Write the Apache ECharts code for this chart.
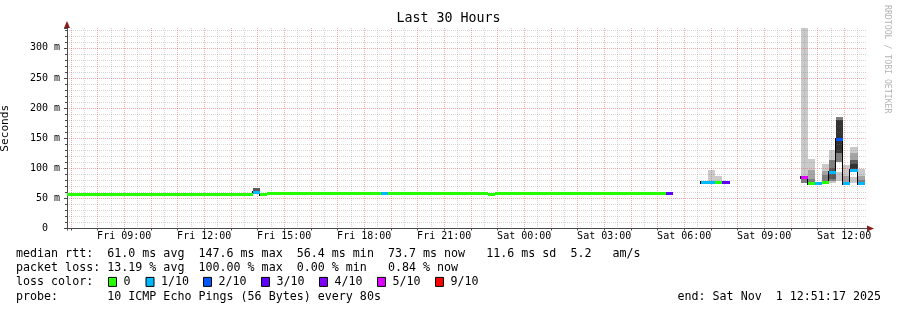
<!DOCTYPE html>
<html><head><meta charset="utf-8">
<script src="https://cdn.jsdelivr.net/npm/echarts@6/dist/echarts.min.js"></script>
<style>html,body{margin:0;padding:0;background:#fff}#c{width:897px;height:310px}</style>
</head><body><div id="c"></div>
<script>
// ---------- DATA (time in hours since Fri 00:00) ----------
const startHour = 6.8547;   // Fri 06:51:17
const endHour = 36.8547;    // Sat 12:51:17
const stepHours = 16 / 60;  // RRD consolidation step (16 min)
const yMax = 333;

// x tick labels (every 3 hours)
const xTickHours = [9, 12, 15, 18, 21, 24, 27, 30, 33, 36];
const xTickLabels = ['Fri 09:00', 'Fri 12:00', 'Fri 15:00', 'Fri 18:00', 'Fri 21:00',
                     'Sat 00:00', 'Sat 03:00', 'Sat 06:00', 'Sat 09:00', 'Sat 12:00'];

// median rtt segments (ms) and their packet loss (pings lost out of 10)
const segStart = [6.8547, 13.835, 14.101, 14.368, 18.635, 18.901, 22.635, 22.901, 29.301,
                  30.635, 30.901, 31.168, 31.435,
                  34.368, 34.635, 34.901, 35.168, 35.435, 35.701, 35.968, 36.235, 36.501];
const segEnd   = [13.835, 14.101, 14.368, 18.635, 18.901, 22.635, 22.901, 29.301, 29.568,
                  30.901, 31.168, 31.435, 31.701,
                  34.635, 34.901, 35.168, 35.435, 35.701, 35.968, 36.235, 36.501, 36.768];
const segMedian = [56.4, 59.0, 56.4, 58.0, 58.0, 58.0, 56.4, 58.0, 58.0,
                   76.5, 76.5, 76.5, 76.5,
                   84.0, 75.0, 75.0, 77.0, 93.0, 148.0, 75.5, 97.0, 74.5];
const segLoss = [0, 1, 0, 0, 1, 0, 0, 0, 3,
                 1, 1, 0, 3,
                 5, 0, 1, 0, 1, 2, 1, 1, 1];

// smoke bands: bucket start, low (ms), high (ms), shade level (1 = outer/light .. 5 = inner/dark)
const bandStart = [13.835, 30.901, 31.168,
                   34.368, 34.368,
                   34.635, 34.635, 34.635,
                   34.901,
                   35.168, 35.168, 35.168,
                   35.435, 35.435, 35.435,
                   35.701, 35.701, 35.701,
                   35.968, 35.968,
                   36.235, 36.235, 36.235, 36.235, 36.235,
                   36.501, 36.501, 36.501];
const bandLo = [57, 76.5, 76.5,
                76, 76,
                74, 74, 74,
                74,
                75, 75, 75,
                76, 79, 82,
                79, 110, 126,
                74, 74,
                75, 97, 97, 97, 97,
                74, 74, 74];
const bandHi = [67, 97, 87,
                333, 82,
                115, 97, 82,
                77,
                107, 96, 89,
                130, 114, 100,
                94, 185, 180,
                105, 87,
                85, 136, 126, 114, 107,
                99, 88, 80];
const bandShade = [4, 1, 1,
                   1, 3,
                   1, 2, 3,
                   1,
                   1, 2, 3,
                   1, 3, 4,
                   1, 3, 5,
                   1, 2,
                   1, 1, 2, 4, 5,
                   1, 2, 3];

// loss colour legend
const lossThresholds = [0, 1, 2, 3, 4, 5, 9];
const lossLabels = ['0', '1/10', '2/10', '3/10', '4/10', '5/10', '9/10'];
const lossColors = ['#26ff00', '#00b8ff', '#0059ff', '#5e00ff', '#7e00ff', '#dd00ff', '#ff0000'];

// legend texts
const medianLine = 'median rtt:  61.0 ms avg  147.6 ms max  56.4 ms min  73.7 ms now   11.6 ms sd  5.2   am/s';
const lossLine = 'packet loss: 13.19 % avg  100.00 % max  0.00 % min   0.84 % now';
const lossColorTitle = 'loss color:';
const probeLine = 'probe:       10 ICMP Echo Pings (56 Bytes) every 80s';
const endLine = 'end: Sat Nov  1 12:51:17 2025';
const titleText = 'Last 30 Hours';
const yName = 'Seconds';
const sideText = 'RRDTOOL / TOBI OETIKER';

// ---------- STYLE ----------
const MONO = '"DejaVu Sans Mono", "Liberation Mono", monospace';
const shadeColors = ['', '#cacaca', '#a4a4a4', '#7e7e7e', '#585858', '#323232'];
const axisColor = '#4a4a4a';
const arrowColor = '#8b1a1a';
const majorGrid = 'rgba(230,70,70,0.45)';
const minorGrid = 'rgba(128,128,128,0.32)';
const legendFont = 11.66;
const legendX = 16;
const legendRowY = [254, 268.2, 282.4, 296.6];
const lossBoxX = [108.5, 146, 203.5, 261.5, 319.5, 377.5, 435.5];

function lossColorFor(l) {
  let c = lossColors[0];
  for (let i = 0; i < lossThresholds.length; i++) if (l >= lossThresholds[i]) c = lossColors[i];
  return c;
}
function fmtX(v) {
  for (let i = 0; i < xTickHours.length; i++) if (Math.abs(v - xTickHours[i]) < 1e-6) return xTickLabels[i];
  return '';
}
function fmtY(v) {
  if (v === 0) return '0  ';
  return v + ' m';
}

// build series data
const bandData = bandStart.map((s, i) => [s, s + stepHours, bandLo[i], bandHi[i], bandShade[i]])
  .sort((a, b) => a[4] - b[4]);
const medData = segStart.map((s, i) => [s, segEnd[i], segMedian[i], segLoss[i]]);
const connData = [];
segStart.forEach((s, i) => {
  const adjacent = i > 0 && Math.abs(segEnd[i - 1] - s) < 1e-6;
  if (!adjacent) connData.push([s, segMedian[i], segMedian[i]]);
  else if (Math.abs(segMedian[i - 1] - segMedian[i]) > 2) connData.push([s, segMedian[i - 1], segMedian[i]]);
});

const graphics = [
  { type: 'text', x: 448.5, y: 19, style: { text: titleText, fill: '#000', font: '13.3px ' + MONO, align: 'center', verticalAlign: 'middle', textAlign: 'center', textVerticalAlign: 'middle' } },
  { type: 'text', x: 887.5, y: 5, rotation: -Math.PI / 2, style: { text: sideText, fill: '#b4b4b4', font: '8.2px ' + MONO, align: 'left', verticalAlign: 'middle', textAlign: 'left', textVerticalAlign: 'middle' } },
  { type: 'text', x: legendX, y: legendRowY[0], style: { text: medianLine, fill: '#000', font: legendFont + 'px ' + MONO, verticalAlign: 'middle', textVerticalAlign: 'middle' } },
  { type: 'text', x: legendX, y: legendRowY[1], style: { text: lossLine, fill: '#000', font: legendFont + 'px ' + MONO, verticalAlign: 'middle', textVerticalAlign: 'middle' } },
  { type: 'text', x: legendX, y: legendRowY[2], style: { text: lossColorTitle, fill: '#000', font: legendFont + 'px ' + MONO, verticalAlign: 'middle', textVerticalAlign: 'middle' } },
  { type: 'text', x: legendX, y: legendRowY[3], style: { text: probeLine, fill: '#000', font: legendFont + 'px ' + MONO, verticalAlign: 'middle', textVerticalAlign: 'middle' } },
  { type: 'text', x: 881, y: legendRowY[3], style: { text: endLine, fill: '#000', font: legendFont + 'px ' + MONO, align: 'right', textAlign: 'right', verticalAlign: 'middle', textVerticalAlign: 'middle' } }
];
lossLabels.forEach((lab, i) => {
  graphics.push({ type: 'rect', shape: { x: lossBoxX[i], y: legendRowY[2] - 5, width: 8, height: 9 }, style: { fill: lossColors[i], stroke: '#000', lineWidth: 1 } });
  graphics.push({ type: 'text', x: lossBoxX[i] + 15, y: legendRowY[2], style: { text: lab, fill: '#000', font: legendFont + 'px ' + MONO, verticalAlign: 'middle', textVerticalAlign: 'middle' } });
});

const chart = echarts.init(document.getElementById('c'), null, { renderer: 'canvas', width: 897, height: 310 });
chart.setOption({
  animation: false,
  backgroundColor: '#ffffff',
  textStyle: { fontFamily: MONO },
  grid: { left: 67, top: 28, width: 800, height: 200.5, containLabel: false, outerBoundsMode: 'none' },
  xAxis: [
    {
      type: 'value', min: startHour, max: endHour, minInterval: 1, maxInterval: 1, position: 'bottom', z: 3,
      axisLine: { show: true, onZero: false, lineStyle: { color: axisColor, width: 1 } },
      axisTick: { show: true, length: 2, lineStyle: { color: axisColor } },
      minorTick: { show: false, splitNumber: 2 },
      axisLabel: { show: true, margin: 3, formatter: fmtX, color: '#000', fontFamily: MONO, fontSize: 10, hideOverlap: false },
      splitLine: { show: true, showMinLine: false, showMaxLine: false, lineStyle: { color: majorGrid, width: 1, type: [1, 1] } },
      minorSplitLine: { show: true, lineStyle: { color: minorGrid, width: 1, type: [1, 1] } }
    },
    {
      type: 'value', min: startHour, max: endHour, position: 'bottom', z: 2,
      axisLine: { show: true, onZero: false, symbol: ['none', 'triangle'], symbolSize: [6, 7], symbolOffset: [0, 3.5], lineStyle: { color: arrowColor, width: 1 } },
      axisTick: { show: false }, axisLabel: { show: false }, splitLine: { show: false }
    }
  ],
  yAxis: [
    {
      type: 'value', min: 0, max: yMax, interval: 50, position: 'left', z: 3,
      name: yName, nameLocation: 'middle', nameGap: 56, nameRotate: 90,
      nameTextStyle: { color: '#000', fontFamily: MONO, fontSize: 11.2 },
      axisLine: { show: true, onZero: false, lineStyle: { color: axisColor, width: 1 } },
      axisTick: { show: true, length: 3, lineStyle: { color: axisColor } },
      minorTick: { show: true, splitNumber: 5, length: 2, lineStyle: { color: axisColor } },
      axisLabel: { show: true, margin: 7, formatter: fmtY, color: '#000', fontFamily: MONO, fontSize: 10, showMaxLabel: false },
      splitLine: { show: true, showMinLine: false, showMaxLine: false, lineStyle: { color: majorGrid, width: 1, type: [1, 1] } },
      minorSplitLine: { show: true, lineStyle: { color: minorGrid, width: 1, type: [1, 1] } }
    },
    {
      type: 'value', min: 0, max: yMax, position: 'left', z: 2,
      axisLine: { show: true, onZero: false, symbol: ['none', 'triangle'], symbolSize: [6, 7], symbolOffset: [0, 3.5], lineStyle: { color: arrowColor, width: 1 } },
      axisTick: { show: false }, axisLabel: { show: false }, splitLine: { show: false }
    }
  ],
  series: [
    {
      type: 'custom', name: 'smoke', xAxisIndex: 0, yAxisIndex: 0, z: 1, clip: true,
      data: bandData, encode: { x: [0, 1], y: [2, 3] },
      renderItem: function (params, api) {
        const a = api.coord([api.value(0), api.value(3)]);
        const b = api.coord([api.value(1), api.value(2)]);
        const x0 = Math.round(a[0]), x1 = Math.round(b[0]);
        const y0 = Math.round(a[1]), y1 = Math.round(b[1]);
        return { type: 'rect', shape: { x: x0, y: y0, width: x1 - x0, height: y1 - y0 }, style: { fill: shadeColors[api.value(4)] } };
      }
    },
    {
      type: 'custom', name: 'connect', xAxisIndex: 0, yAxisIndex: 0, z: 4, clip: true,
      data: connData, encode: { x: 0, y: [1, 2] },
      renderItem: function (params, api) {
        const a = api.coord([api.value(0), api.value(1)]);
        const b = api.coord([api.value(0), api.value(2)]);
        const x = Math.round(a[0]) - 1;
        const yt = Math.round(Math.min(a[1], b[1]) - 1.5);
        const yb = Math.round(Math.max(a[1], b[1]) + 1.5);
        return { type: 'rect', shape: { x: x, y: yt, width: 1, height: yb - yt }, style: { fill: '#000' } };
      }
    },
    {
      type: 'custom', name: 'median', xAxisIndex: 0, yAxisIndex: 0, z: 5, clip: true,
      data: medData, encode: { x: [0, 1], y: 2 },
      renderItem: function (params, api) {
        const a = api.coord([api.value(0), api.value(2)]);
        const b = api.coord([api.value(1), api.value(2)]);
        const x0 = Math.round(a[0]), x1 = Math.round(b[0]);
        const y0 = Math.round(a[1] - 1.5);
        return { type: 'rect', shape: { x: x0, y: y0, width: x1 - x0, height: 3 }, style: { fill: lossColorFor(api.value(3)) } };
      }
    }
  ],
  graphic: graphics
});
</script>
</body></html>
